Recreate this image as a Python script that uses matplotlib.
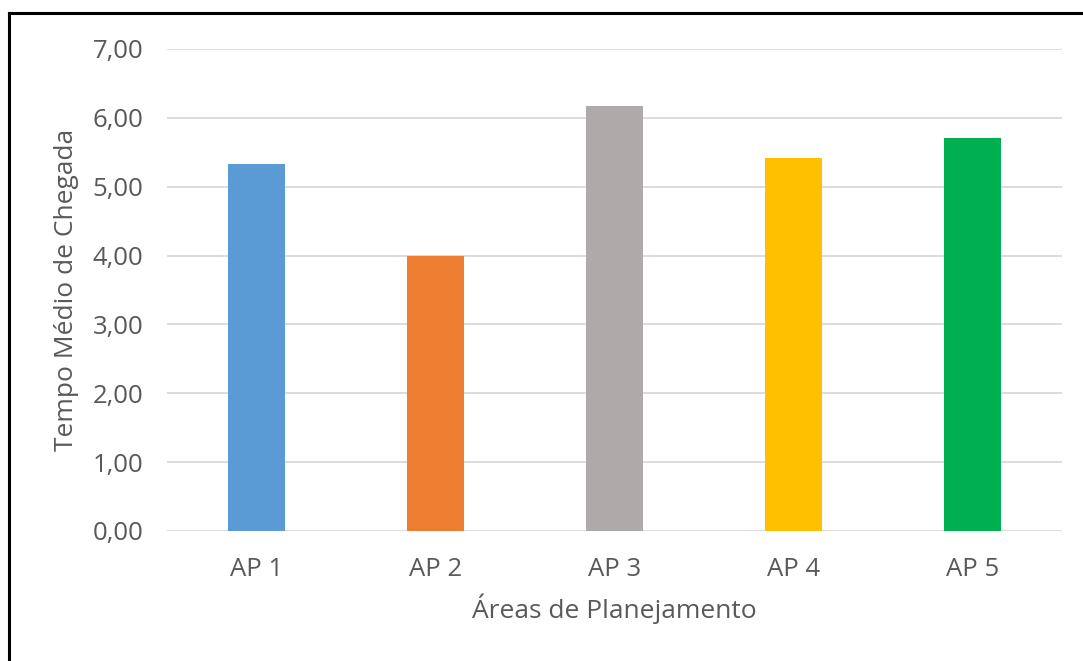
import matplotlib.pyplot as plt
from matplotlib.lines import Line2D
from matplotlib.ticker import FuncFormatter

areas = ['AP 1', 'AP 2', 'AP 3', 'AP 4', 'AP 5']
tempo_medio = [5.33, 4.00, 6.17, 5.41, 5.70]
cores = ['#5B9BD5', '#ED7D31', '#AEAAAA', '#FFC000', '#00B050']

plt.rcParams['font.family'] = ['Open Sans', 'DejaVu Sans']
cinza = '#595959'

fig = plt.figure(figsize=(10.83, 6.61), dpi=100)
ax = fig.add_axes([0.1542, 0.1967, 0.8264, 0.7292])

ax.bar(range(len(areas)), tempo_medio, width=0.313, color=cores, zorder=3)
ax.set_xlim(-0.5, len(areas) - 0.5)
ax.set_ylim(0, 7)
ax.set_yticks(range(0, 8))
ax.yaxis.set_major_formatter(FuncFormatter(lambda v, p: f'{v:.2f}'.replace('.', ',')))
ax.set_xticks(range(len(areas)))
ax.set_xticklabels(areas)

ax.grid(axis='y', color='#d9d9d9', linewidth=1.3, zorder=0)
for s in ax.spines.values():
    s.set_visible(False)
ax.tick_params(length=0, labelsize=18.5, colors=cinza)
ax.tick_params(axis='y', pad=17)
ax.tick_params(axis='x', pad=19)

ax.set_ylabel('Tempo Médio de Chegada', fontsize=19, color=cinza, labelpad=10)
ax.set_xlabel('Áreas de Planejamento', fontsize=19, color=cinza, labelpad=8)

# moldura (topo e lado esquerdo)
fig.add_artist(Line2D([8.5 / 1083, 1], [1 - 13 / 661, 1 - 13 / 661],
                      color='black', linewidth=2.2, transform=fig.transFigure))
fig.add_artist(Line2D([8.5 / 1083, 8.5 / 1083], [0, 1 - 13 / 661],
                      color='black', linewidth=2.2, transform=fig.transFigure))

fig.savefig('out.png', dpi=100)
